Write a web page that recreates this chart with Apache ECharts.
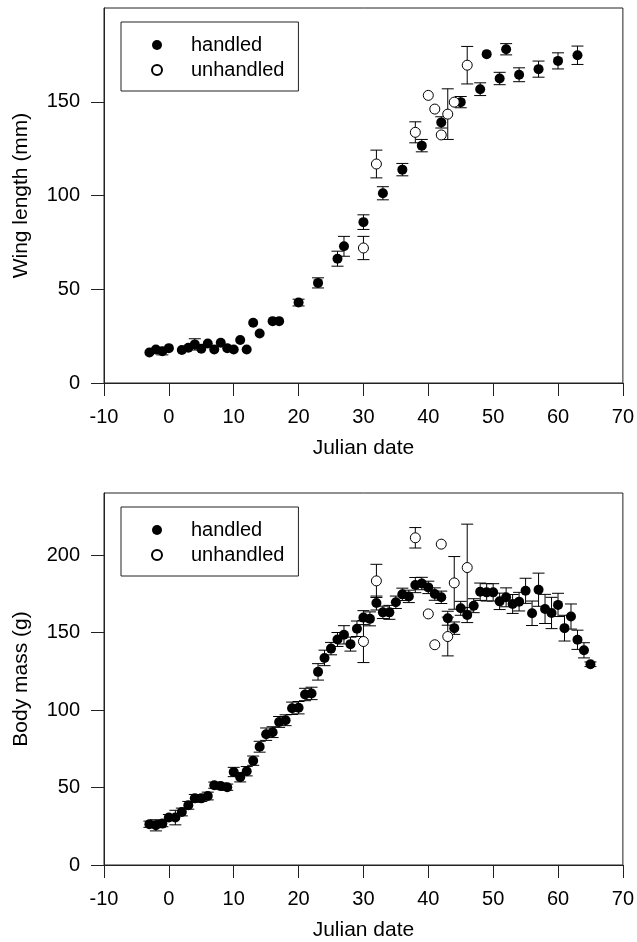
<!DOCTYPE html>
<html>
<head>
<meta charset="utf-8">
<script src="https://cdn.jsdelivr.net/npm/echarts@6/dist/echarts.min.js"></script>
<style>
  html, body { margin: 0; padding: 0; background: #fff; }
  #chart { width: 637px; height: 942px; }
</style>
</head>
<body>
<div id="chart"></div>
<script>
// ---------- Data ----------
const xTicks = [-10, 0, 10, 20, 30, 40, 50, 60, 70];
const wingTicks = [0, 50, 100, 150];
const massTicks = [0, 50, 100, 150, 200];

// Wing length (mm) – handled
const wingHandledX   = [-3, -2, -1, 0, 2, 3, 4, 5, 6, 7, 8, 9, 10, 11, 12, 13, 14, 16, 17, 20, 23, 26, 27, 30, 33, 36, 39, 42, 45, 48, 49, 51, 52, 54, 57, 60, 63];
const wingHandledY   = [16.3, 17.9, 17.0, 18.6, 17.6, 18.8, 20.6, 18.3, 21.1, 17.9, 21.5, 18.6, 17.9, 22.9, 17.9, 32.1, 26.4, 33.0, 33.0, 42.9, 53.4, 66.3, 72.9, 85.8, 101.2, 113.8, 126.6, 139.0, 149.8, 156.7, 175.4, 162.4, 178.0, 164.4, 167.4, 171.8, 174.8];
const wingHandledErr = [0, 0, 2.0, 0, 0, 0, 3.0, 0, 0, 0, 0, 0, 0, 0, 0, 0, 0, 0, 0, 1.8, 2.7, 4.0, 5.3, 3.9, 3.5, 3.3, 3.3, 3.0, 3.0, 3.4, 0, 3.3, 3.0, 3.7, 4.3, 4.3, 4.9];

// Wing length (mm) – unhandled
const wingUnhandledX   = [30, 32, 38, 40, 41, 42, 43, 44, 46];
const wingUnhandledY   = [72.0, 116.8, 133.7, 153.4, 146.1, 132.3, 143.4, 149.8, 169.5];
const wingUnhandledErr = [6.2, 7.4, 5.6, 0, 0, 0, 13.5, 0, 10.0];

// Body mass (g) – handled
const massHandledX   = [-3, -2, -1, 0, 1, 2, 3, 4, 5, 6, 7, 8, 9, 10, 11, 12, 13, 14, 15, 16, 17, 18, 19, 20, 21, 22, 23, 24, 25, 26, 27, 28, 29, 30, 31, 32, 33, 34, 35, 36, 37, 38, 39, 40, 41, 42, 43, 44, 45, 46, 47, 48, 49, 50, 51, 52, 53, 54, 55, 56, 57, 58, 59, 60, 61, 62, 63, 64, 65];
const massHandledY   = [26.3, 25.6, 26.7, 30.6, 30.6, 34.2, 38.5, 43.0, 43.0, 44.5, 51.5, 50.9, 50.2, 60.0, 56.6, 60.5, 67.3, 76.3, 84.4, 85.7, 92.3, 93.4, 101.1, 101.5, 110.0, 110.7, 124.6, 133.6, 139.6, 145.5, 148.5, 142.5, 152.4, 159.6, 158.8, 169.0, 163.0, 163.0, 169.5, 174.6, 173.3, 180.6, 181.6, 179.1, 174.8, 172.7, 159.2, 152.8, 165.6, 161.3, 167.3, 176.3, 175.9, 175.9, 170.1, 172.7, 168.4, 169.9, 176.9, 162.4, 177.6, 165.2, 162.6, 167.8, 152.8, 160.3, 145.3, 138.5, 129.5];
const massHandledErr = [2.0, 3.6, 2.0, 2.0, 4.7, 2.5, 2.5, 2.5, 2.0, 2.5, 2.0, 2.0, 2.0, 3.0, 3.0, 3.0, 3.0, 3.5, 4.0, 3.5, 3.5, 3.5, 4.0, 4.0, 4.0, 4.0, 5.3, 5.0, 4.0, 4.5, 5.9, 4.5, 5.0, 4.5, 4.5, 4.5, 4.0, 4.5, 4.0, 4.0, 4.0, 4.9, 4.0, 4.0, 4.0, 4.0, 4.5, 4.0, 4.5, 4.9, 4.5, 5.6, 5.6, 5.6, 5.3, 6.1, 6.1, 6.0, 8.1, 7.9, 10.7, 9.4, 10.1, 7.5, 8.3, 8.1, 6.2, 4.9, 1.5];

// Body mass (g) – unhandled
const massUnhandledX   = [30, 32, 38, 40, 41, 42, 43, 44, 46];
const massUnhandledY   = [144.2, 183.3, 211.1, 162.0, 142.1, 207.0, 147.4, 182.0, 191.9];
const massUnhandledErr = [13.6, 10.7, 6.6, 0, 0, 0, 12.5, 17.0, 28.0];

// ---------- Helpers ----------
const FONT = 'Liberation Sans, Arial, Helvetica, sans-serif';

function points(xs, ys) { return xs.map((x, i) => [x, ys[i]]); }
function bars(xs, ys, es) {
  const out = [];
  xs.forEach((x, i) => { if (es[i] > 0) out.push([x, ys[i] - es[i], ys[i] + es[i]]); });
  return out;
}
function renderBar(params, api) {
  const x = api.value(0), lo = api.value(1), hi = api.value(2);
  const pt = api.coord([x, hi]);
  const pb = api.coord([x, lo]);
  const hw = 6;
  const st = { stroke: '#000', lineWidth: 1, fill: null };
  return {
    type: 'group',
    children: [
      { type: 'line', shape: { x1: pt[0], y1: pt[1], x2: pb[0], y2: pb[1] }, style: st },
      { type: 'line', shape: { x1: pt[0] - hw, y1: pt[1], x2: pt[0] + hw, y2: pt[1] }, style: st },
      { type: 'line', shape: { x1: pb[0] - hw, y1: pb[1], x2: pb[0] + hw, y2: pb[1] }, style: st }
    ]
  };
}
function barSeries(idx, data) {
  return {
    type: 'custom', xAxisIndex: idx, yAxisIndex: idx, z: 1,
    renderItem: renderBar, data: data, encode: { x: 0, y: [1, 2] }, silent: true
  };
}
function scatterSeries(idx, name, data, open) {
  return {
    type: 'scatter', name: name, xAxisIndex: idx, yAxisIndex: idx, z: 3,
    symbol: 'circle', symbolSize: 10, data: data,
    itemStyle: open ? { color: '#fff', borderColor: '#000', borderWidth: 1, opacity: 1 }
                    : { color: '#000', borderColor: '#000', borderWidth: 0, opacity: 1 }
  };
}
function xAxis(idx) {
  return {
    type: 'value', gridIndex: idx, min: -10, max: 70, interval: 10,
    name: 'Julian date', nameLocation: 'middle', nameGap: 55,
    nameTextStyle: { fontFamily: FONT, fontSize: 21, color: '#000' },
    axisLine: { show: true, onZero: false, lineStyle: { color: '#222', width: 1 } },
    axisTick: { show: true, inside: false, length: 13, lineStyle: { color: '#222', width: 1 } },
    axisLabel: { fontFamily: FONT, fontSize: 20, color: '#000', margin: 24,
                 customValues: xTicks },
    splitLine: { show: false }
  };
}
function yAxis(idx, name, max, ticks) {
  return {
    type: 'value', gridIndex: idx, min: 0, max: max, interval: 50,
    name: name, nameLocation: 'middle', nameGap: 72, nameRotate: 90,
    nameTextStyle: { fontFamily: FONT, fontSize: 21, color: '#000' },
    axisLine: { show: true, onZero: false, lineStyle: { color: '#222', width: 1 } },
    axisTick: { show: true, inside: false, length: 13, lineStyle: { color: '#222', width: 1 },
                customValues: ticks },
    axisLabel: { fontFamily: FONT, fontSize: 20, color: '#000', margin: 24,
                 customValues: ticks },
    splitLine: { show: false }
  };
}
function legend(top) {
  return {
    orient: 'vertical', left: 121, top: top,
    data: ['handled', 'unhandled'],
    selectedMode: false,
    borderColor: '#222', borderWidth: 1, borderRadius: 0,
    padding: [12, 14, 10, 30],
    itemGap: 3, itemWidth: 10, itemHeight: 10,
    textStyle: { fontFamily: FONT, fontSize: 20, color: '#000', lineHeight: 22, padding: [0, 0, 0, 24] }
  };
}

const option = {
  animation: false,
  backgroundColor: '#fff',
  grid: [
    { left: 104, width: 521, top: 8, height: 375, show: true, borderColor: '#222', borderWidth: 1, backgroundColor: 'transparent' },
    { left: 104, width: 521, top: 493, height: 375, show: true, borderColor: '#222', borderWidth: 1, backgroundColor: 'transparent' }
  ],
  legend: [legend(22), legend(507)],
  xAxis: [xAxis(0), xAxis(1)],
  yAxis: [yAxis(0, 'Wing length (mm)', 200, wingTicks), yAxis(1, 'Body mass (g)', 240, massTicks)],
  series: [
    barSeries(0, bars(wingHandledX, wingHandledY, wingHandledErr)),
    barSeries(0, bars(wingUnhandledX, wingUnhandledY, wingUnhandledErr)),
    scatterSeries(0, 'handled', points(wingHandledX, wingHandledY), false),
    scatterSeries(0, 'unhandled', points(wingUnhandledX, wingUnhandledY), true),
    barSeries(1, bars(massHandledX, massHandledY, massHandledErr)),
    barSeries(1, bars(massUnhandledX, massUnhandledY, massUnhandledErr)),
    scatterSeries(1, 'handled', points(massHandledX, massHandledY), false),
    scatterSeries(1, 'unhandled', points(massUnhandledX, massUnhandledY), true)
  ]
};

const chart = echarts.init(document.getElementById('chart'), null, { renderer: 'canvas' });
chart.setOption(option);
</script>
</body>
</html>
